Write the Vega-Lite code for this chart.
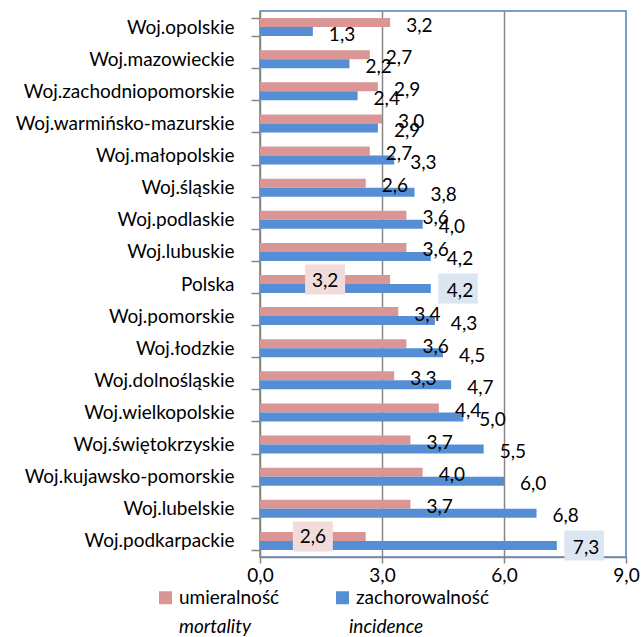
{
  "$schema": "https://vega.github.io/schema/vega-lite/v6.json",
  "width": 366,
  "height": 546,
  "autosize": {"type": "none"},
  "padding": {"left": 260, "top": 11, "right": 17, "bottom": 80},
  "config": {
    "locale": {"number": {"decimal": ",", "thousands": " ", "grouping": [3], "currency": ["", " zł"]}},
    "font": "Lato",
    "view": {"stroke": "#4F81BD", "strokeWidth": 1.5},
    "text": {"font": "Lato", "fontSize": 19, "color": "#000000"}
  },
  "data": {"values": [
    {"region": "Woj.opolskie", "measure": "umieralność", "measure_en": "mortality", "value": 3.2},
    {"region": "Woj.opolskie", "measure": "zachorowalność", "measure_en": "incidence", "value": 1.3},
    {"region": "Woj.mazowieckie", "measure": "umieralność", "measure_en": "mortality", "value": 2.7},
    {"region": "Woj.mazowieckie", "measure": "zachorowalność", "measure_en": "incidence", "value": 2.2},
    {"region": "Woj.zachodniopomorskie", "measure": "umieralność", "measure_en": "mortality", "value": 2.9},
    {"region": "Woj.zachodniopomorskie", "measure": "zachorowalność", "measure_en": "incidence", "value": 2.4},
    {"region": "Woj.warmińsko-mazurskie", "measure": "umieralność", "measure_en": "mortality", "value": 3.0},
    {"region": "Woj.warmińsko-mazurskie", "measure": "zachorowalność", "measure_en": "incidence", "value": 2.9},
    {"region": "Woj.małopolskie", "measure": "umieralność", "measure_en": "mortality", "value": 2.7},
    {"region": "Woj.małopolskie", "measure": "zachorowalność", "measure_en": "incidence", "value": 3.3},
    {"region": "Woj.śląskie", "measure": "umieralność", "measure_en": "mortality", "value": 2.6},
    {"region": "Woj.śląskie", "measure": "zachorowalność", "measure_en": "incidence", "value": 3.8},
    {"region": "Woj.podlaskie", "measure": "umieralność", "measure_en": "mortality", "value": 3.6},
    {"region": "Woj.podlaskie", "measure": "zachorowalność", "measure_en": "incidence", "value": 4.0},
    {"region": "Woj.lubuskie", "measure": "umieralność", "measure_en": "mortality", "value": 3.6},
    {"region": "Woj.lubuskie", "measure": "zachorowalność", "measure_en": "incidence", "value": 4.2},
    {"region": "Polska", "measure": "umieralność", "measure_en": "mortality", "value": 3.2},
    {"region": "Polska", "measure": "zachorowalność", "measure_en": "incidence", "value": 4.2},
    {"region": "Woj.pomorskie", "measure": "umieralność", "measure_en": "mortality", "value": 3.4},
    {"region": "Woj.pomorskie", "measure": "zachorowalność", "measure_en": "incidence", "value": 4.3},
    {"region": "Woj.łodzkie", "measure": "umieralność", "measure_en": "mortality", "value": 3.6},
    {"region": "Woj.łodzkie", "measure": "zachorowalność", "measure_en": "incidence", "value": 4.5},
    {"region": "Woj.dolnośląskie", "measure": "umieralność", "measure_en": "mortality", "value": 3.3},
    {"region": "Woj.dolnośląskie", "measure": "zachorowalność", "measure_en": "incidence", "value": 4.7},
    {"region": "Woj.wielkopolskie", "measure": "umieralność", "measure_en": "mortality", "value": 4.4},
    {"region": "Woj.wielkopolskie", "measure": "zachorowalność", "measure_en": "incidence", "value": 5.0},
    {"region": "Woj.świętokrzyskie", "measure": "umieralność", "measure_en": "mortality", "value": 3.7},
    {"region": "Woj.świętokrzyskie", "measure": "zachorowalność", "measure_en": "incidence", "value": 5.5},
    {"region": "Woj.kujawsko-pomorskie", "measure": "umieralność", "measure_en": "mortality", "value": 4.0},
    {"region": "Woj.kujawsko-pomorskie", "measure": "zachorowalność", "measure_en": "incidence", "value": 6.0},
    {"region": "Woj.lubelskie", "measure": "umieralność", "measure_en": "mortality", "value": 3.7},
    {"region": "Woj.lubelskie", "measure": "zachorowalność", "measure_en": "incidence", "value": 6.8},
    {"region": "Woj.podkarpackie", "measure": "umieralność", "measure_en": "mortality", "value": 2.6},
    {"region": "Woj.podkarpackie", "measure": "zachorowalność", "measure_en": "incidence", "value": 7.3}
  ]},
  "encoding": {
    "y": {
      "field": "region", "type": "nominal", "sort": null,
      "scale": {"paddingInner": 0.44, "paddingOuter": 0.22},
      "axis": {
        "title": null, "tickBand": "extent", "tickSize": 9, "tickWidth": 1.5, "tickColor": "#868686",
        "domainColor": "#868686", "domainWidth": 1.5, "labelPadding": 17, "labelFontSize": 19,
        "labelColor": "#000000", "labelLimit": 300, "labelFont": "Lato"
      }
    },
    "yOffset": {"field": "measure", "type": "nominal", "scale": {"domain": ["umieralność", "zachorowalność"]}}
  },
  "layer": [
    {
      "mark": {"type": "bar"},
      "encoding": {
        "x": {
          "field": "value", "type": "quantitative",
          "scale": {"domain": [0, 9], "nice": false},
          "axis": {
            "title": null, "values": [0, 3, 6, 9], "format": ".1f", "grid": true,
            "gridColor": "#868686", "gridWidth": 1.5,
            "gridOpacity": {"condition": {"test": "datum.value === 0 || datum.value === 9", "value": 0}, "value": 1},
            "domainColor": "#868686", "domainWidth": 1.5, "tickColor": "#868686", "tickWidth": 1.5, "tickSize": 6,
            "labelFontSize": 19, "labelColor": "#000000", "labelPadding": 3, "labelFlush": false, "labelFont": "Lato"
          }
        },
        "color": {
          "field": "measure", "type": "nominal",
          "scale": {"domain": ["umieralność", "zachorowalność"], "range": ["#DA9694", "#558ED5"]},
          "legend": {
            "title": null, "orient": "none", "direction": "horizontal", "legendX": -104, "legendY": 577,
            "symbolType": "square", "symbolSize": 169, "symbolStrokeWidth": 0, "symbolOpacity": 1,
            "labelOffset": 4, "labelFontSize": 19, "labelColor": "#000000", "labelFont": "Lato",
            "columnPadding": 53, "padding": 0
          }
        }
      }
    },
    {
      "mark": {"type": "point", "opacity": 0},
      "encoding": {
        "x": {"field": "value", "type": "quantitative"},
        "shape": {
          "field": "measure_en", "type": "nominal",
          "scale": {"domain": ["mortality", "incidence"], "range": ["square", "square"]},
          "legend": {
            "title": null, "orient": "none", "direction": "horizontal", "legendX": -104, "legendY": 606,
            "symbolSize": 169, "symbolOpacity": 0, "symbolStrokeWidth": 0,
            "labelOffset": 4, "labelFontSize": 19, "labelColor": "#000000", "labelFontStyle": "italic", "labelFont": "Lato",
            "columnPadding": 74, "padding": 0
          }
        }
      }
    },
    {
      "transform": [
        {"filter": "(datum.region === 'Polska' || datum.region === 'Woj.podkarpackie') && datum.measure === 'umieralność'"},
        {"calculate": "datum.value / 2", "as": "mid"}
      ],
      "mark": {"type": "point", "shape": "M-2,-1.5H2V1.5H-2Z", "size": 400, "filled": true, "color": "#F2DCDB", "opacity": 1, "strokeWidth": 0},
      "encoding": {"x": {"field": "mid", "type": "quantitative"}}
    },
    {
      "transform": [
        {"filter": "(datum.region === 'Polska' || datum.region === 'Woj.podkarpackie') && datum.measure === 'zachorowalność'"}
      ],
      "mark": {"type": "point", "shape": "M0.75,-1.5H4.7V1.5H0.75Z", "size": 400, "filled": true, "color": "#DCE6F2", "opacity": 1, "strokeWidth": 0},
      "encoding": {"x": {"field": "value", "type": "quantitative"}}
    },
    {
      "transform": [
        {"filter": "!((datum.region === 'Polska' || datum.region === 'Woj.podkarpackie') && datum.measure === 'umieralność')"}
      ],
      "mark": {"type": "text", "align": "left", "baseline": "middle", "dx": 16, "dy": 3},
      "encoding": {
        "x": {"field": "value", "type": "quantitative"},
        "text": {"field": "value", "type": "quantitative", "format": ".1f"}
      }
    },
    {
      "transform": [
        {"filter": "(datum.region === 'Polska' || datum.region === 'Woj.podkarpackie') && datum.measure === 'umieralność'"},
        {"calculate": "datum.value / 2", "as": "mid"}
      ],
      "mark": {"type": "text", "align": "center", "baseline": "middle", "dy": 1},
      "encoding": {
        "x": {"field": "mid", "type": "quantitative"},
        "text": {"field": "value", "type": "quantitative", "format": ".1f"}
      }
    }
  ]
}
